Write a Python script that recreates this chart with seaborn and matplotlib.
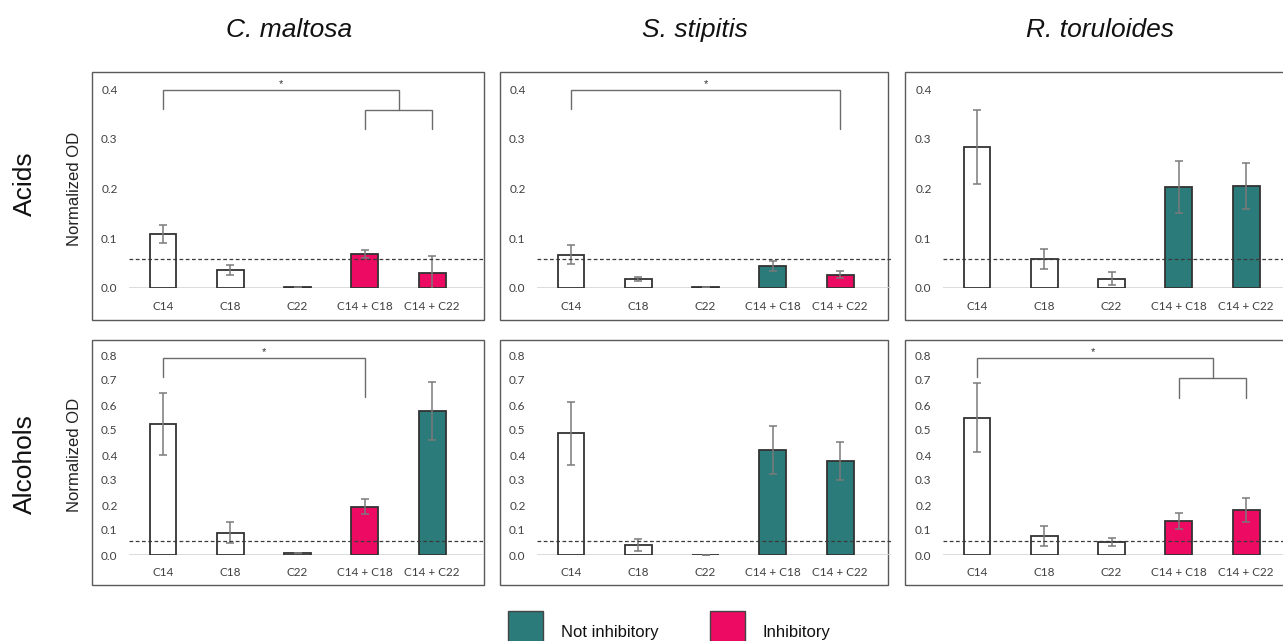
import numpy as np
import pandas as pd
import matplotlib
matplotlib.use("Agg")
import matplotlib.pyplot as plt
from matplotlib.patches import Rectangle
import seaborn as sns

# ---------------- data ----------------
categories = ["C14", "C18", "C22", "C14 + C18", "C14 + C22"]
species = ["C. maltosa", "S. stipitis", "R. toruloides"]
rows = ["Acids", "Alcohols"]

# Acids
acid_maltosa = [0.108, 0.036, 0.002, 0.068, 0.030]
acid_maltosa_err = [0.018, 0.010, 0.000, 0.008, 0.034]
acid_stipitis = [0.067, 0.019, 0.002, 0.045, 0.027]
acid_stipitis_err = [0.019, 0.004, 0.000, 0.010, 0.007]
acid_toruloides = [0.284, 0.059, 0.019, 0.203, 0.205]
acid_toruloides_err = [0.074, 0.020, 0.013, 0.053, 0.046]

# Alcohols
alc_maltosa = [0.525, 0.090, 0.007, 0.194, 0.576]
alc_maltosa_err = [0.123, 0.041, 0.000, 0.031, 0.115]
alc_stipitis = [0.487, 0.041, 0.002, 0.422, 0.376]
alc_stipitis_err = [0.125, 0.024, 0.000, 0.096, 0.076]
alc_toruloides = [0.550, 0.078, 0.052, 0.137, 0.181]
alc_toruloides_err = [0.139, 0.040, 0.015, 0.032, 0.047]

# bar class: none / not / inh
kind_acid_maltosa = ["none", "none", "none", "inh", "inh"]
kind_acid_stipitis = ["none", "none", "none", "not", "inh"]
kind_acid_toruloides = ["none", "none", "none", "not", "not"]
kind_alc_maltosa = ["none", "none", "none", "inh", "not"]
kind_alc_stipitis = ["none", "none", "none", "not", "not"]
kind_alc_toruloides = ["none", "none", "none", "inh", "inh"]

threshold_acids = 0.058
threshold_alcohols = 0.055

acid_ticks = [0.0, 0.1, 0.2, 0.3, 0.4]
alc_ticks = [0.0, 0.1, 0.2, 0.3, 0.4, 0.5, 0.6, 0.7, 0.8]

legend_labels = ["Not inhibitory", "Inhibitory"]

# ---------------- styling ----------------
sns.set_style("white")
plt.rcParams["font.family"] = ["Liberation Sans", "DejaVu Sans"]

TEAL = "#2A7B79"
PINK = "#EC0A62"
color_map = {"none": "#FFFFFF", "not": TEAL, "inh": PINK}

W, H = 1283, 641
fig = plt.figure(figsize=(W / 100, H / 100), dpi=100)


def fx(px):
    return px / W


def fy(py):
    return 1 - py / H


panels = [
    [(acid_maltosa, acid_maltosa_err, kind_acid_maltosa),
     (acid_stipitis, acid_stipitis_err, kind_acid_stipitis),
     (acid_toruloides, acid_toruloides_err, kind_acid_toruloides)],
    [(alc_maltosa, alc_maltosa_err, kind_alc_maltosa),
     (alc_stipitis, alc_stipitis_err, kind_alc_stipitis),
     (alc_toruloides, alc_toruloides_err, kind_alc_toruloides)],
]

box_left = [92, 500, 905]
box_right = [484, 888, 1300]
box_top = [72, 340]
box_bottom = [320, 585]
cat0_px = [163, 571, 977]
spacing = 67.3
zero_px = [288, 555]
top_px = [89, 355]
ylims = [0.4, 0.8]
ticks = [acid_ticks, alc_ticks]
thresholds = [threshold_acids, threshold_alcohols]


def bracket(ax, x1, x2, y, y1low, y2low):
    ax.plot([x1, x1, x2, x2], [y1low, y, y, y2low], color="#6b6b6b",
            lw=1.0, clip_on=False, zorder=5, solid_joinstyle="miter")


axes = {}
for r in range(2):
    for c in range(3):
        left = cat0_px[c] - 0.51 * spacing
        right = cat0_px[c] + 4.75 * spacing
        ax = fig.add_axes([fx(left), fy(zero_px[r]), (right - left) / W,
                           (zero_px[r] - top_px[r]) / H])
        vals, errs, kinds = panels[r][c]
        df = pd.DataFrame({"cat": categories, "val": vals, "kind": kinds})
        pal = {k: color_map[k] for k in set(kinds)}
        ax.axhline(0, color="#d6d6d6", lw=1.2, zorder=0.5)
        sns.barplot(data=df, x="cat", y="val", hue="kind", palette=pal,
                    saturation=1, dodge=False, width=0.4,
                    edgecolor="#333333", linewidth=1.3, errorbar=None,
                    legend=False, ax=ax, zorder=2)
        ax.errorbar(np.arange(len(categories)), vals, yerr=errs, fmt="none",
                    ecolor="#7a7a7a", elinewidth=1.1, capsize=3,
                    capthick=1.1, zorder=3)
        ax.axhline(thresholds[r], color="#3a3a3a", lw=0.9,
                   ls=(0, (3, 2)), zorder=4)
        ax.set_xlim(-0.51, 4.75)
        ax.set_ylim(0, ylims[r])
        ax.set_yticks(ticks[r])
        ax.set_yticklabels([f"{t:.1f}" for t in ticks[r]],
                           family=["Lato", "DejaVu Sans"])
        ax.set_xticks(range(len(categories)))
        ax.set_xticklabels(categories, family=["Lato", "DejaVu Sans"])
        ax.tick_params(axis="both", length=0, labelsize=8.5,
                       colors="#404040")
        ax.tick_params(axis="y", pad=8)
        ax.tick_params(axis="x", pad=9)
        ax.set_xlabel("")
        for s in ax.spines.values():
            s.set_visible(False)
        ax.patch.set_alpha(0)
        if c == 0:
            ax.set_ylabel("Normalized OD", fontsize=12, color="#222222")
            ax.yaxis.set_label_coords(-0.132, 0.5)
        else:
            ax.set_ylabel("")
        axes[(r, c)] = ax
        # panel frame
        fig.add_artist(Rectangle((fx(box_left[c]), fy(box_bottom[r])),
                                 (box_right[c] - box_left[c]) / W,
                                 (box_bottom[r] - box_top[r]) / H,
                                 transform=fig.transFigure, fill=False,
                                 edgecolor="#5a5a5a", lw=1.0, zorder=0))

# significance brackets
ax = axes[(0, 0)]
bracket(ax, 0, 3.5, 0.398, 0.36, 0.358)
bracket(ax, 3, 4, 0.358, 0.32, 0.32)
ax.text(1.75, 0.399, "*", ha="center", va="bottom", fontsize=8, color="#333")
ax = axes[(0, 1)]
bracket(ax, 0, 4, 0.398, 0.36, 0.32)
ax.text(2.0, 0.399, "*", ha="center", va="bottom", fontsize=8, color="#333")
ax = axes[(1, 0)]
bracket(ax, 0, 3, 0.789, 0.713, 0.633)
ax.text(1.5, 0.79, "*", ha="center", va="bottom", fontsize=8, color="#333")
ax = axes[(1, 2)]
bracket(ax, 0, 3.5, 0.79, 0.713, 0.71)
bracket(ax, 3, 4, 0.71, 0.63, 0.63)
ax.text(1.73, 0.791, "*", ha="center", va="bottom", fontsize=8, color="#333")

# column titles
title_x = [289, 695, 1100]
for c in range(3):
    fig.text(fx(title_x[c]), fy(30), species[c], ha="center", va="center",
             fontsize=19, style="italic", color="#111111")

# row labels
row_y = [184, 464]
for r in range(2):
    fig.text(fx(25), fy(row_y[r]), rows[r], ha="center", va="center",
             fontsize=19, rotation=90, color="#111111")

# legend
leg_sq_x = [508, 710]
leg_txt_x = [561, 763]
leg_cols = [TEAL, PINK]
for i in range(2):
    fig.add_artist(Rectangle((fx(leg_sq_x[i]), fy(646)), 35 / W, 35 / H,
                             transform=fig.transFigure, facecolor=leg_cols[i],
                             edgecolor="#444444", lw=1.0))
    fig.text(fx(leg_txt_x[i]), fy(632), legend_labels[i], ha="left",
             va="center", fontsize=12, color="#111111")

fig.savefig("out.png", dpi=100, facecolor="white")
